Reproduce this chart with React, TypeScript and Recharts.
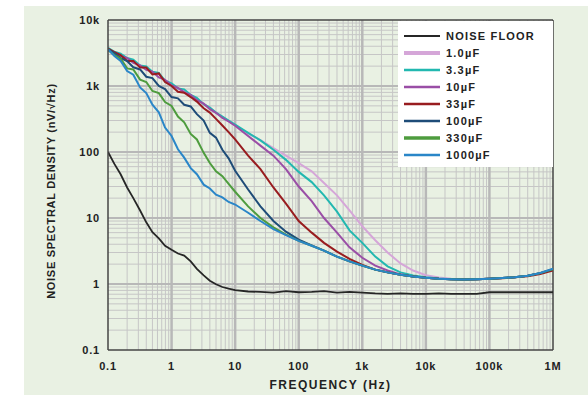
import React from 'react';
import { LineChart, Line, XAxis, YAxis, ReferenceLine, Legend } from 'recharts';

// Frequency (Hz)
const FREQ = [
  0.1, 0.126, 0.158, 0.2, 0.25, 0.32, 0.4, 0.5, 0.63, 0.79,
  1, 1.26, 1.58, 2, 2.5, 3.2, 4, 5, 6.3, 7.9,
  10, 16, 25, 40, 63, 100, 160, 250, 400, 630,
  1000, 1600, 2500, 4000, 6300, 10000, 16000, 25000, 40000, 63000,
  100000, 160000, 250000, 400000, 630000, 1000000,
];

// Noise spectral density (nV/√Hz)
const NOISE_FLOOR = [
  100, 66, 46, 29, 20, 13, 8.6, 6.1, 4.9, 3.8,
  3.3, 2.9, 2.7, 2.2, 1.7, 1.35, 1.12, 0.99, 0.9, 0.85,
  0.81, 0.77, 0.76, 0.74, 0.78, 0.75, 0.76, 0.78, 0.74, 0.76,
  0.74, 0.72, 0.71, 0.72, 0.71, 0.71, 0.72, 0.71, 0.71, 0.71,
  0.75, 0.75, 0.75, 0.75, 0.75, 0.75,
];
const C_1_0 = [
  3500, 3150, 2950, 2550, 2350, 2000, 1900, 1600, 1500, 1220,
  1080, 900, 850, 710, 640, 530, 470, 390, 340, 292,
  255, 190, 152, 115, 88, 68, 51, 34, 22, 13,
  7.5, 4.6, 3, 2.05, 1.6, 1.36, 1.25, 1.2, 1.18, 1.18,
  1.2, 1.23, 1.27, 1.33, 1.46, 1.68,
];
const C_3_3 = [
  3800, 3300, 3100, 2650, 2500, 2050, 1980, 1650, 1580, 1200,
  1100, 920, 890, 730, 660, 530, 470, 395, 345, 298,
  260, 195, 150, 108, 76, 50, 35, 22, 12.5, 6.5,
  4.2, 2.6, 1.85, 1.5, 1.35, 1.27, 1.21, 1.18, 1.17, 1.18,
  1.2, 1.23, 1.27, 1.33, 1.46, 1.66,
];
const C_10 = [
  3500, 3250, 2850, 2650, 2250, 2050, 1750, 1650, 1350, 1240,
  1020, 940, 800, 735, 610, 540, 445, 392, 328, 290,
  250, 175, 125, 88, 55, 30, 18, 10, 6, 3.6,
  2.5, 1.9, 1.6, 1.4, 1.3, 1.24, 1.2, 1.18, 1.17, 1.18,
  1.2, 1.23, 1.27, 1.33, 1.45, 1.64,
];
const C_33 = [
  3700, 3250, 2950, 2400, 2400, 1900, 1900, 1500, 1550, 1150,
  1000, 820, 790, 680, 580, 460, 395, 318, 252, 200,
  155, 88, 55, 29, 16.5, 9, 6, 4.2, 3.1, 2.4,
  1.95, 1.65, 1.5, 1.38, 1.3, 1.24, 1.2, 1.18, 1.17, 1.18,
  1.2, 1.22, 1.26, 1.31, 1.42, 1.6,
];
const C_100 = [
  3600, 3150, 2650, 2380, 1920, 1780, 1380, 1320, 1000, 900,
  680, 650, 520, 490, 375, 300, 195, 165, 108, 80,
  52, 27, 15, 9, 6.2, 4.7, 3.85, 3.2, 2.6, 2.2,
  1.9, 1.65, 1.5, 1.38, 1.3, 1.24, 1.2, 1.18, 1.17, 1.18,
  1.2, 1.23, 1.27, 1.33, 1.46, 1.67,
];
const C_330 = [
  3500, 2950, 2600, 1850, 1780, 1250, 1150, 840, 780, 570,
  500, 345, 282, 188, 155, 97, 68, 51, 43, 33,
  25, 15, 10, 7.2, 5.6, 4.5, 3.8, 3.2, 2.6, 2.2,
  1.9, 1.65, 1.5, 1.38, 1.3, 1.24, 1.2, 1.18, 1.17, 1.18,
  1.2, 1.23, 1.27, 1.33, 1.46, 1.68,
];
const C_1000 = [
  3600, 2850, 2400, 1680, 1480, 950, 780, 520, 400, 235,
  175, 110, 82, 57, 46, 32, 28, 22.5, 20.5, 17.5,
  16, 12, 9, 6.8, 5.5, 4.5, 3.8, 3.2, 2.6, 2.2,
  1.9, 1.65, 1.5, 1.38, 1.3, 1.24, 1.2, 1.18, 1.17, 1.18,
  1.2, 1.23, 1.27, 1.33, 1.47, 1.7,
];

const X_TICKS = [0.1, 1, 10, 100, 1000, 10000, 100000, 1000000];
const X_TICK_LABELS = ['0.1', '1', '10', '100', '1k', '10k', '100k', '1M'];
const Y_TICKS = [0.1, 1, 10, 100, 1000, 10000];
const Y_TICK_LABELS = ['0.1', '1', '10', '100', '1k', '10k'];

const SERIES = [
  { key: 'nf', name: 'NOISE FLOOR', color: '#262626', values: NOISE_FLOOR, width: 1.8, lw: 2 },
  { key: 'c1', name: '1.0\u00b5F', color: '#d5a6d8', values: C_1_0, width: 2, lw: 4 },
  { key: 'c3', name: '3.3\u00b5F', color: '#22b8b0', values: C_3_3, width: 2, lw: 2.5 },
  { key: 'c10', name: '10\u00b5F', color: '#9a4ea6', values: C_10, width: 2, lw: 2.5 },
  { key: 'c33', name: '33\u00b5F', color: '#981c1f', values: C_33, width: 2, lw: 2.5 },
  { key: 'c100', name: '100\u00b5F', color: '#1e4c78', values: C_100, width: 2, lw: 2.5 },
  { key: 'c330', name: '330\u00b5F', color: '#4e9c3e', values: C_330, width: 2, lw: 3.5 },
  { key: 'c1000', name: '1000\u00b5F', color: '#2a86c8', values: C_1000, width: 2, lw: 2.5 },
];

const DATA = FREQ.map((f, i) => {
  const row: Record<string, number> = { f };
  SERIES.forEach((s) => {
    row[s.key] = s.values[i];
  });
  return row;
});

const DECADES_X = [0.1, 1, 10, 100, 1000, 10000, 100000];
const DECADES_Y = [0.1, 1, 10, 100, 1000];
const MULTS = [2, 3, 4, 5, 6, 7, 8, 9];
const MINOR_X = DECADES_X.flatMap((d) => MULTS.map((m) => +(d * m).toPrecision(3)));
const MINOR_Y = DECADES_Y.flatMap((d) => MULTS.map((m) => +(d * m).toPrecision(3)));

const FONT = '"Liberation Sans", Arial, Helvetica, sans-serif';

const LegendBox = () => (
  <div style={{ background: '#fff', width: 155, height: 146 }}>
    <svg width={155} height={146}>
      {SERIES.map((s, i) => (
        <g key={s.key}>
          <line x1={6} x2={42} y1={15 + i * 17} y2={15 + i * 17} stroke={s.color} strokeWidth={s.lw} />
          <text
            x={48}
            y={15 + i * 17}
            dy="0.36em"
            fontFamily={FONT}
            fontWeight="bold"
            fontSize={11}
            letterSpacing={1.2}
            fill="#222"
          >
            {s.name}
          </text>
        </g>
      ))}
    </svg>
  </div>
);

const YLabel = (props: any) => {
  const vb = props.viewBox || {};
  const cx = vb.x + 3;
  const cy = vb.y + vb.height / 2 + 6;
  return (
    <text
      x={cx}
      y={cy}
      transform={`rotate(-90, ${cx}, ${cy})`}
      textAnchor="middle"
      dominantBaseline="central"
      fontFamily={FONT}
      fontWeight="bold"
      fontSize={11}
      letterSpacing={0.7}
      fill="#222"
    >
      NOISE SPECTRAL DENSITY (nV/√Hz)
    </text>
  );
};

export default function App() {
  return (
    <div style={{ position: 'absolute', left: 0, top: 0, width: 588, height: 395, background: '#fff' }}>
      <div style={{ position: 'absolute', left: 24, top: 6, width: 564, height: 389, background: '#e9f1e3' }} />
      <div style={{ position: 'absolute', left: 0, top: 0 }}>
        <LineChart width={588} height={395} data={DATA} margin={{ top: 20, right: 35, bottom: 15, left: 48 }}>
          <XAxis
            dataKey="f"
            type="number"
            scale="log"
            domain={[0.1, 1000000]}
            ticks={X_TICKS}
            tickFormatter={(v: number) => X_TICK_LABELS[X_TICKS.indexOf(v)] ?? ''}
            allowDataOverflow
            height={30}
            tickLine={false}
            tickMargin={6}
            axisLine={{ stroke: '#444', strokeWidth: 1.5 }}
            tick={{ fontFamily: FONT, fontWeight: 'bold', fontSize: 11, fill: '#222', letterSpacing: 0.8 }}
            label={{
              value: 'FREQUENCY (Hz)',
              position: 'insideBottom',
              offset: -9,
              fontFamily: FONT,
              fontWeight: 'bold',
              fontSize: 12,
              fill: '#222',
              letterSpacing: 1.5,
            }}
          />
          <YAxis
            type="number"
            scale="log"
            domain={[0.1, 10000]}
            ticks={Y_TICKS}
            tickFormatter={(v: number) => Y_TICK_LABELS[Y_TICKS.indexOf(v)] ?? ''}
            allowDataOverflow
            width={60}
            tickLine={false}
            axisLine={{ stroke: '#444', strokeWidth: 1.5 }}
            tick={{ fontFamily: FONT, fontWeight: 'bold', fontSize: 11, fill: '#222', letterSpacing: 0.8 }}
            label={<YLabel />}
          />
          {MINOR_X.map((v) => (
            <ReferenceLine key={`mx${v}`} x={v} stroke="#c6c6c6" strokeWidth={1} />
          ))}
          {MINOR_Y.map((v) => (
            <ReferenceLine key={`my${v}`} y={v} stroke="#c6c6c6" strokeWidth={1} />
          ))}
          {DECADES_X.slice(1).map((v) => (
            <ReferenceLine key={`Mx${v}`} x={v} stroke="#b8b8b8" strokeWidth={2.5} />
          ))}
          {DECADES_Y.slice(1).map((v) => (
            <ReferenceLine key={`My${v}`} y={v} stroke="#b8b8b8" strokeWidth={2} />
          ))}
          <ReferenceLine x={1000000} stroke="#444" strokeWidth={1.5} />
          <ReferenceLine y={10000} stroke="#444" strokeWidth={1.5} />
          {SERIES.map((s) => (
            <Line
              key={s.key}
              dataKey={s.key}
              name={s.name}
              stroke={s.color}
              strokeWidth={s.width}
              dot={false}
              type="linear"
              isAnimationActive={false}
            />
          ))}
          <Legend
            layout="vertical"
            align="center"
            verticalAlign="middle"
            wrapperStyle={{ left: 398, top: 21, width: 155, height: 146 }}
            content={() => <LegendBox />}
          />
        </LineChart>
      </div>
    </div>
  );
}
